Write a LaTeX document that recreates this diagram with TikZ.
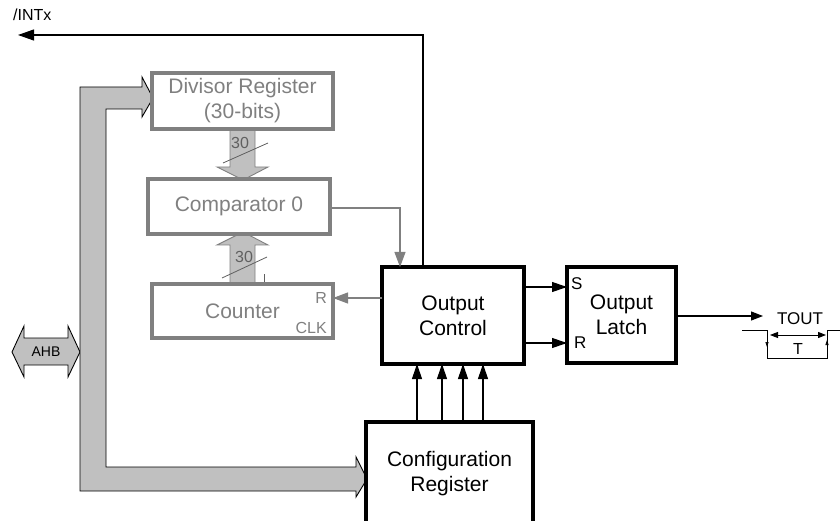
\documentclass[tikz,border=0pt]{standalone}
\usepackage{fontspec}
\setmainfont{Liberation Sans}
\usetikzlibrary{arrows.meta}
\definecolor{busgray}{HTML}{C0C0C0}
\definecolor{dimgray}{HTML}{808080}
\definecolor{labgray}{HTML}{606060}

\begin{document}
\begin{tikzpicture}[x=1pt,y=-1pt,
  boxfont/.style={font=\fontsize{21}{25}\selectfont},
  graybox/.style={draw=dimgray,line width=3.5pt,fill=white,text=dimgray,
    inner sep=0pt,outer sep=0pt,boxfont,align=center},
  blackbox/.style={draw=black,line width=3.5pt,fill=white,
    inner sep=0pt,outer sep=0pt,boxfont,align=center},
  bus/.style={draw=black,line width=0.9pt,fill=busgray,line join=miter},
  widebus/.style={draw=dimgray,line width=0.9pt,fill=busgray},
  sig/.style={draw=black,line width=1.1pt,-{Triangle[length=15pt,width=10pt]}},
  graysig/.style={draw=dimgray,line width=1.1pt,-{Triangle[length=15pt,width=11pt]}},
  lbl/.style={inner sep=0pt,font=\fontsize{16}{18}\selectfont},
]
\useasboundingbox (0,0) rectangle (840,521);
\clip (0,0) rectangle (840,521);

% AHB bus: double-headed entry and the L-shaped system bus
\draw[bus] (12,352) -- (24,326) -- (24,338) -- (68,338) -- (68,326) -- (80,352)
  -- (68,377) -- (68,365) -- (24,365) -- (24,377) -- cycle;
\node[inner sep=0pt,font=\fontsize{14}{16}\selectfont] (ahb) at (46,352) {AHB};

\draw[bus] (80,87) -- (142,87) -- (142,77) -- (153,98) -- (142,117) -- (142,109)
  -- (106,109) -- (106,467) -- (356,467) -- (356,457) -- (367,479) -- (356,497)
  -- (356,491) -- (80,491) -- cycle;

% 30-bit internal buses
\draw[widebus] (230,129) -- (255,129) -- (255,167) -- (268,167) -- (243,180)
  -- (217,167) -- (230,167) -- cycle;
\draw[widebus] (230,285) -- (230,245) -- (217,245) -- (243,232) -- (268,245)
  -- (255,245) -- (255,285) -- cycle;
\node[lbl,text=labgray] (w1) at (240,143) {30};
\node[lbl,text=labgray] (w2) at (244,257) {30};
\draw[labgray,line width=0.8pt] (223,163) -- (268,143);
\draw[labgray,line width=0.8pt] (222,278) -- (267,257);
\draw[labgray,line width=0.8pt] (264,274) -- (264,285);

% Blocks
\node[graybox,minimum width=181pt,minimum height=56pt] (div) at (242.5,101)
  {Divisor Register\\(30-bits)};
\node[graybox,minimum width=182pt,minimum height=55pt] (cmp) at (239,206.5)
  {Comparator 0};
\node[graybox,minimum width=181pt,minimum height=54pt] (cnt) at (242.5,311)
  {Counter};
\node[lbl,text=dimgray,anchor=east] (cntR) at (327,298) {R};
\node[lbl,text=dimgray,anchor=east] (cntCLK) at (327,328) {CLK};

\node[blackbox,minimum width=142pt,minimum height=97pt] (oc) at (453,315.5)
  {Output\\Control};
\node[blackbox,minimum width=109pt,minimum height=96pt] (lat) at (621.5,315)
  {Output\\Latch};
\node[lbl,font=\fontsize{17}{20}\selectfont,anchor=west] (latS) at (571,283.5) {S};
\node[lbl,font=\fontsize{17}{20}\selectfont,anchor=west] (latR) at (574,343) {R};

\node[blackbox,minimum width=167pt,minimum height=104pt] (cfg) at (449.5,474)
  {Configuration\\Register};

% Control signals
\draw[graysig] (cmp.east |- 0,208) -| (oc.north -| 400,0);
\draw[graysig] (oc.west |- 0,298) -- (cnt.east |- 0,298);

\coordinate (intx) at (18,35);
\draw[draw=black,line width=1.1pt,-{Triangle[length=16pt,width=11pt]}]
  (oc.north -| 423,0) |- (intx);
\node[inner sep=0pt,font=\fontsize{16}{18}\selectfont,anchor=west] (intxlbl) at (13,15) {/INTx};

\draw[sig] (oc.east |- 0,287) -- (lat.west |- 0,287);
\draw[sig] (oc.east |- 0,343) -- (lat.west |- 0,343);
\foreach \xx in {417,442,463,483}
  \draw[sig] (cfg.north -| \xx,0) -- (oc.south -| \xx,0);

% Timer output and waveform
\coordinate (toutin) at (763,316);
\draw[draw=black,line width=1.1pt,-{Triangle[length=12pt,width=9pt]}]
  (lat.east |- 0,316) -- (toutin);
\node[inner sep=0pt,font=\fontsize{17}{20}\selectfont] (tout) at (800,318.5) {TOUT};

\draw[line width=1pt] (742,330) -- (767,330) -- (767,358) -- (827,358)
  -- (827,330) -- (840,330);
\draw[line width=0.7pt,-{Triangle[length=5pt,width=3pt]}] (767,338) -- (767,347);
\draw[line width=0.7pt,-{Triangle[length=5pt,width=3pt]}] (827,349) -- (827,340);
\draw[line width=1pt,{Triangle[length=8pt,width=6pt]}-{Triangle[length=8pt,width=6pt]}]
  (770,335) -- (826,335);
\node[inner sep=0pt,font=\fontsize{16}{18}\selectfont] (per) at (798,349) {T};
\end{tikzpicture}
\end{document}
